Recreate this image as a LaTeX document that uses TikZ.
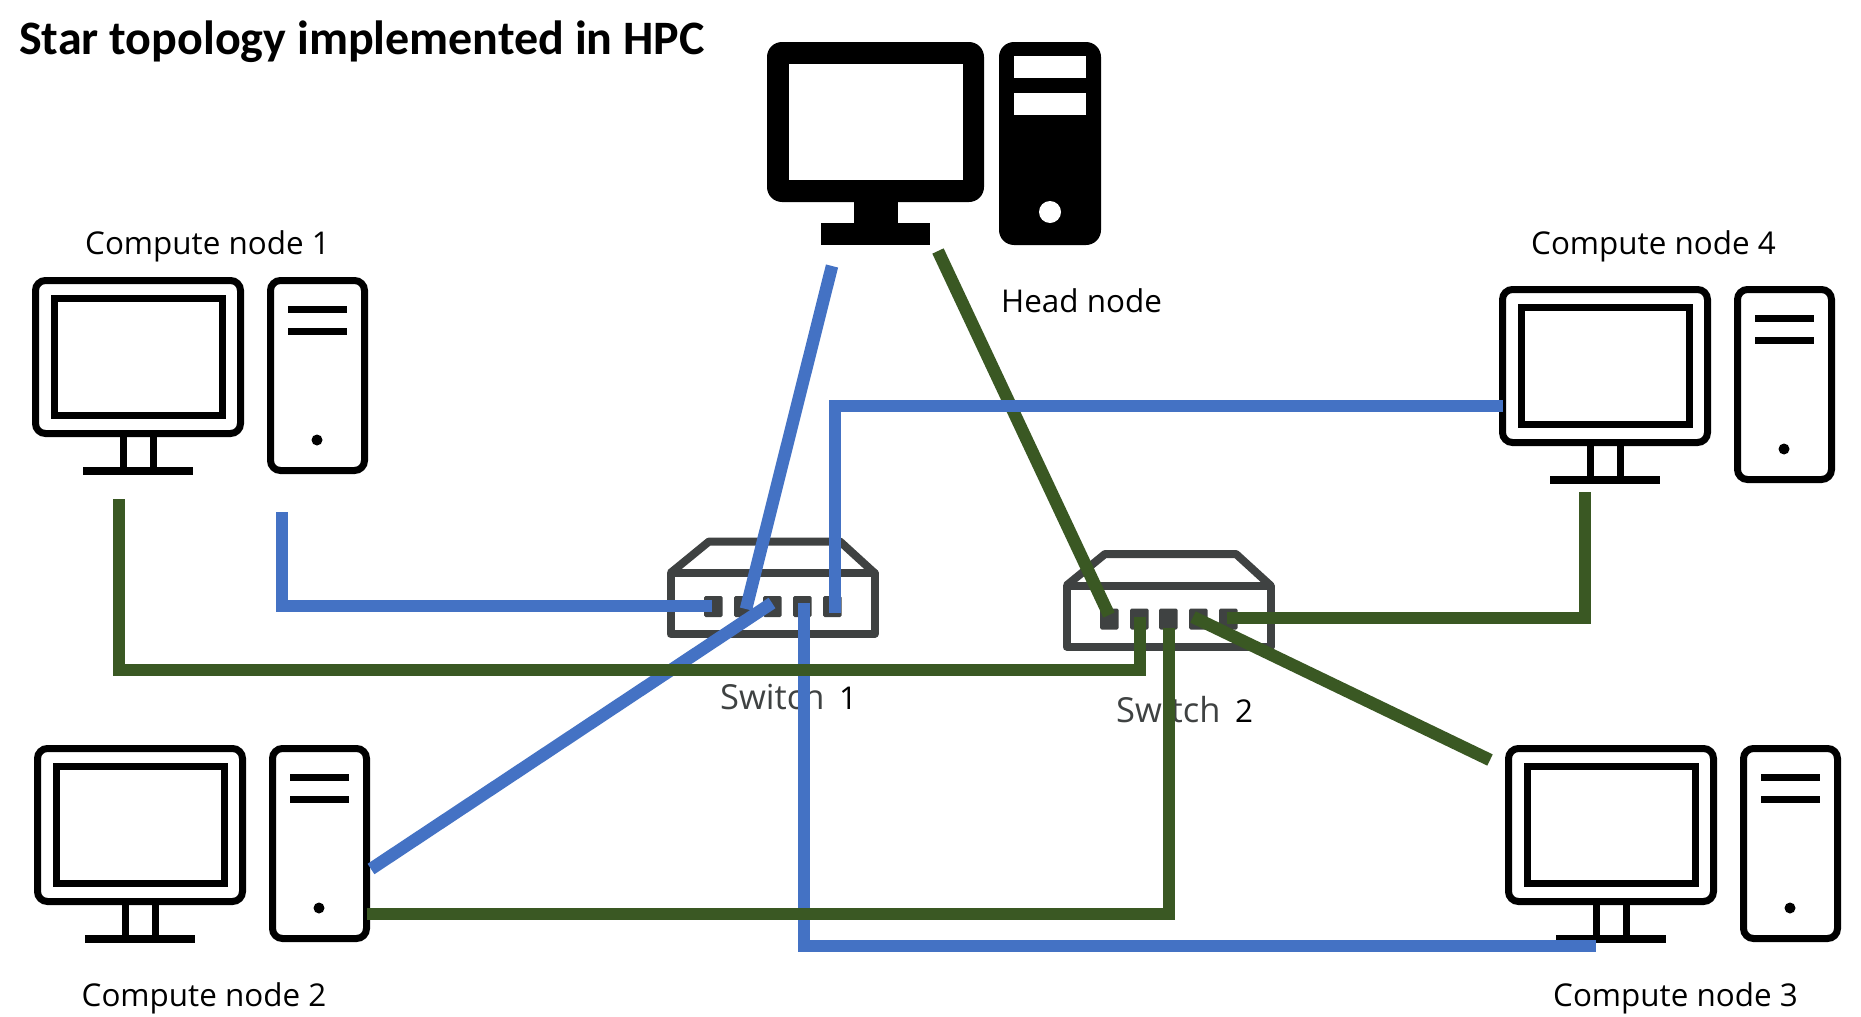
\documentclass[tikz,border=0pt]{standalone}
\usepackage{fontspec}
\setmainfont{Open Sans}
\newfontfamily\titlefont{Carlito}
\definecolor{linkblue}{HTML}{4472C4}
\definecolor{linkgreen}{HTML}{3A5823}
\definecolor{switchgrey}{HTML}{3F4242}
\tikzset{
  lbl/.style={inner sep=0pt,anchor=base west,font=\fontsize{31.4}{36}\selectfont},
  titlelbl/.style={inner sep=0pt,anchor=base west,font=\titlefont\bfseries\fontsize{48}{54}\selectfont},
  switchlbl/.style={inner sep=0pt,anchor=base west,text=switchgrey,font=\fontsize{34.5}{38}\selectfont},
  switchnum/.style={inner sep=0pt,anchor=base west,text=black,font=\fontsize{31.4}{36}\selectfont},
  bluelink/.style={draw=linkblue,line width=12.5pt,miter limit=10},
  greenlink/.style={draw=linkgreen,line width=12.5pt,miter limit=10},
  iconline/.style={draw=black,line width=7pt},
  swline/.style={draw=switchgrey,line width=8pt,line join=round},
}
% outline computer: #1,#2 = offset from the Compute node 1 icon
\newcommand{\outlinepc}[2]{%
  \begin{scope}[shift={(#1,#2)}]
    \draw[iconline,rounded corners=10pt] (35.5,280.5) rectangle (240.5,433.5);
    \draw[iconline] (54.5,298.5) rectangle (222.5,415.5);
    \draw[iconline] (123.5,437) -- (123.5,467);
    \draw[iconline] (153,437) -- (153,467);
    \fill (83,467) rectangle (193,475);
    \draw[iconline,rounded corners=10pt] (270.5,280.5) rectangle (364.5,470.5);
    \fill (288,306) rectangle (347,313);
    \fill (288,328) rectangle (347,335);
    \fill (317,440) circle[radius=5.5];
  \end{scope}}
% network switch: #1,#2 = offset from the Switch 1 icon
\newcommand{\netswitch}[2]{%
  \begin{scope}[shift={(#1,#2)}]
    \draw[swline] (670.5,573) -- (874.5,573) -- (874.5,634) -- (670.5,634) -- cycle;
    \draw[swline] (670.5,573) -- (709,541.5) -- (840,541.5) -- (874.5,573);
    \foreach \px in {704,734,763,793,823}
      \fill[switchgrey,rounded corners=1.5pt] (\px,596) rectangle ++(18.5,21);
  \end{scope}}
\begin{document}
\begin{tikzpicture}[x=1pt,y=-1pt]
\useasboundingbox (0,0) rectangle (1861,1017);
\fill[white] (0,0) rectangle (1861,1017);

% head node
\fill[black,rounded corners=15pt] (767,42) rectangle (984,202);
\fill[white] (789,64) rectangle (963,180);
\fill[black] (854,200) rectangle (898,223);
\fill[black] (821,223) rectangle (930,245);
\fill[black,rounded corners=15pt] (999,42) rectangle (1101,245);
\fill[white] (1014,56) rectangle (1086,78);
\fill[white] (1014,93) rectangle (1086,115);
\fill[white] (1050,212) circle[radius=11];

\outlinepc{0}{0}
\outlinepc{2}{468}
\outlinepc{1473}{468}
\outlinepc{1467}{9}
\netswitch{0}{0}
\netswitch{396}{12.5}

% text
\node[titlelbl] (title) at (19,54) {Star topology implemented in HPC};
\node[lbl] (cn1) at (85,254) {Compute node 1};
\node[lbl] (cn2) at (81.5,1006) {Compute node 2};
\node[lbl] (cn3) at (1553,1006) {Compute node 3};
\node[lbl] (cn4) at (1531,254) {Compute node 4};
\node[lbl] (head) at (1001,312) {Head node};
\node[switchlbl] (sw1) at (720,709) {Switch};
\node[switchnum] (sw1n) at (839,709) {1};
\node[switchlbl] (sw2) at (1116,722) {Switch};
\node[switchnum] (sw2n) at (1235,722) {2};

% connector ends
\coordinate (headB) at (832,266);
\coordinate (headG) at (938,251);
\coordinate (pcOneB) at (282,512);
\coordinate (pcOneG) at (119,499);
\coordinate (pcTwoB) at (371,869);
\coordinate (pcTwoG) at (367,914);
\coordinate (pcThreeB) at (1596,946);
\coordinate (pcThreeG) at (1490,760);
\coordinate (pcFourB) at (1503,406);
\coordinate (pcFourG) at (1585,492);
\coordinate (sOneA) at (712,606);
\coordinate (sOneB) at (746,609);
\coordinate (sOneC) at (772,603);
\coordinate (sOneD) at (804,603);
\coordinate (sOneE) at (835,613);
\coordinate (sTwoA) at (1109,615);
\coordinate (sTwoB) at (1140,617);
\coordinate (sTwoC) at (1169,628);
\coordinate (sTwoD) at (1193,617);
\coordinate (sTwoE) at (1227,618);

% head to switch 2 lies under the blue links
\draw[greenlink] (headG) -- (sTwoA);
% blue links
\draw[bluelink] (pcOneB) |- (sOneA);
\draw[bluelink] (headB) -- (sOneB);
\draw[bluelink] (pcTwoB) -- (sOneC);
\draw[bluelink] (sOneD) |- (pcThreeB);
\draw[bluelink] (sOneE) |- (pcFourB);
% other green links
\draw[greenlink] (pcOneG) |- (sTwoB |- 0,670) -- (sTwoB);
\draw[greenlink] (sTwoD) -- (pcThreeG);
\draw[greenlink] (sTwoE) -| (pcFourG);
\draw[greenlink] (pcTwoG) -| (sTwoC);
\end{tikzpicture}
\end{document}
